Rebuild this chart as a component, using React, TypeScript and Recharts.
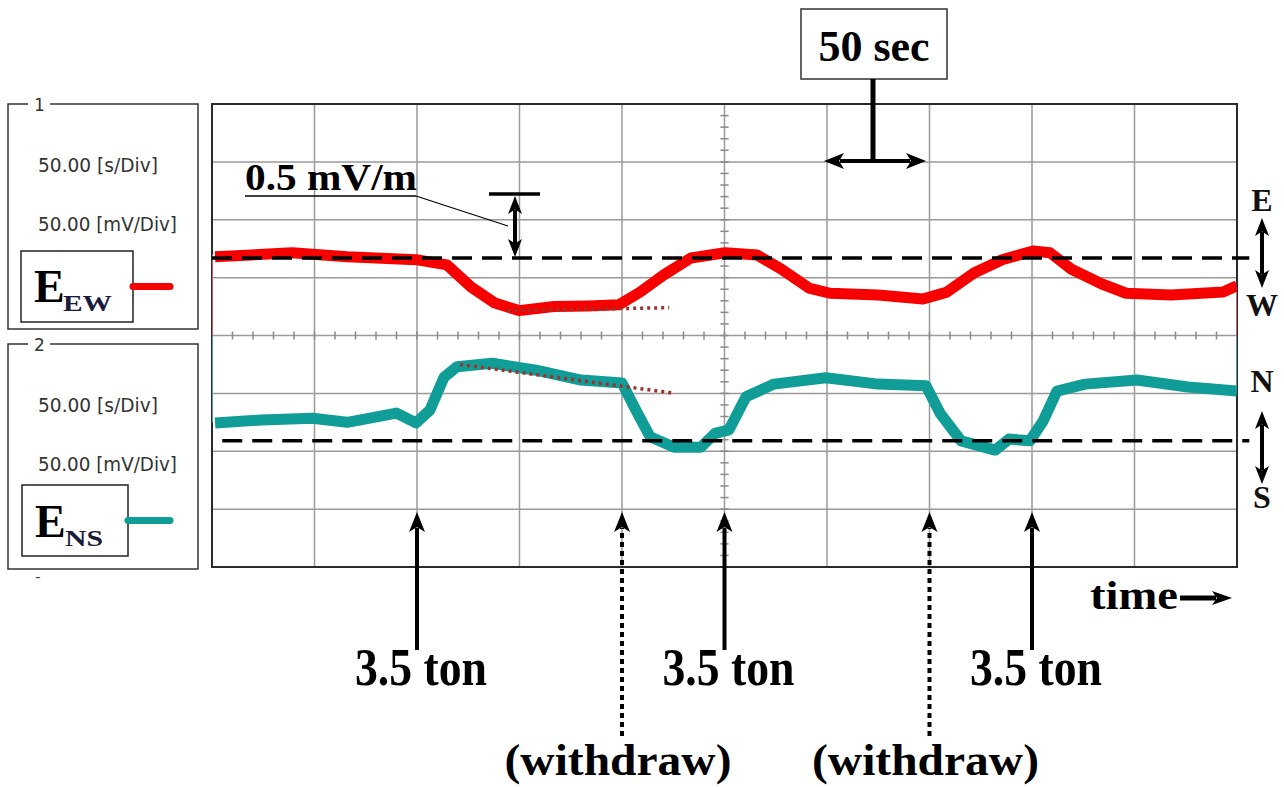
import React from "react";
import { ComposedChart, Line, XAxis, YAxis, CartesianGrid, ReferenceLine, ReferenceArea } from "recharts";

// time in seconds (50 s/div), values in screen divisions (50 mV/div)
const ewTime = [1.5, 39, 66, 99.5, 114.6, 126.3, 138, 149.8, 166.8, 183.4, 198.5, 208.8, 220.5, 233.7, 250.2, 265.9, 277.6, 291.2, 301.5, 324.9, 346.8, 358.5, 371.7, 385.4, 400.5, 408.8, 419, 434.1, 445.9, 467.8, 493.2, 500];
const ewValue = [1.36, 1.43, 1.36, 1.31, 1.22, 0.84, 0.56, 0.43, 0.5, 0.51, 0.53, 0.75, 1.05, 1.34, 1.43, 1.39, 1.15, 0.82, 0.73, 0.7, 0.63, 0.75, 1.08, 1.31, 1.46, 1.43, 1.15, 0.89, 0.73, 0.7, 0.75, 0.86];

const nsTime = [1.5, 24, 49, 66, 90, 99.5, 106.3, 113.2, 119.5, 136.6, 158, 180, 200, 206.8, 213.7, 225.4, 238.5, 245.4, 252.2, 260.5, 274.1, 299.5, 324.9, 348.3, 355.1, 365.4, 382, 388.8, 399, 405.4, 412.2, 425.9, 451.2, 476.1, 500];
const nsValue = [-1.51, -1.46, -1.43, -1.5, -1.34, -1.51, -1.29, -0.72, -0.54, -0.48, -0.6, -0.77, -0.82, -1.29, -1.75, -1.93, -1.93, -1.69, -1.63, -1.06, -0.84, -0.73, -0.84, -0.87, -1.34, -1.82, -1.98, -1.79, -1.82, -1.48, -0.96, -0.84, -0.77, -0.89, -0.96];

// beam retrace at the screen edges
const ewBeam = [{ t: 0, v: 0 }, { t: 0, v: 1.4 }];
const nsBeam = [{ t: 0, v: 0 }, { t: 0, v: -1.5 }];
const ewBeamEnd = [{ t: 500, v: 0.86 }, { t: 500, v: 0 }];
const nsBeamEnd = [{ t: 500, v: 0 }, { t: 500, v: -0.96 }];

// reference levels and trend lines
const ewLevel = 1.34;
const nsLevel = -1.82;
const ewTrend = [{ t: 144, v: 0.43 }, { t: 223, v: 0.48 }];
const nsTrend = [{ t: 121, v: -0.5 }, { t: 224, v: -0.99 }];

// events
const loadTimes = [100, 250, 400];
const withdrawTimes = [200, 350];

const xTicks = [0, 50, 100, 150, 200, 250, 300, 350, 400, 450, 500];
const yTicks = [-4, -3, -2, -1, 0, 1, 2, 3, 4];
const minorT = Array.from({ length: 49 }, (_, i) => (i + 1) * 10);
const minorV = Array.from({ length: 39 }, (_, i) => -3.8 + i * 0.2);

const ewData = ewTime.map((t, i) => ({ t, v: ewValue[i] }));
const nsData = nsTime.map((t, i) => ({ t, v: nsValue[i] }));

const W = 1284;
const H = 787;
const M = { top: 104, right: 47, bottom: 220, left: 212 };
const xPx = (t: number) => M.left + (t / 500) * (W - M.left - M.right);

const RED = "#f70000";
const TEAL = "#109c97";
const SERIF = "'Liberation Serif', 'Times New Roman', serif";
const SANS = "'DejaVu Sans', sans-serif";

function Head({ x, y, dir, w = 16, h = 20 }: { x: number; y: number; dir: "up" | "down" | "left" | "right"; w?: number; h?: number }) {
  let pts = "";
  if (dir === "up") pts = `${x},${y} ${x - w / 2},${y + h} ${x},${y + h * 0.75} ${x + w / 2},${y + h}`;
  if (dir === "down") pts = `${x},${y} ${x - w / 2},${y - h} ${x},${y - h * 0.75} ${x + w / 2},${y - h}`;
  if (dir === "left") pts = `${x},${y} ${x + h},${y - w / 2} ${x + h * 0.75},${y} ${x + h},${y + w / 2}`;
  if (dir === "right") pts = `${x},${y} ${x - h},${y - w / 2} ${x - h * 0.75},${y} ${x - h},${y + w / 2}`;
  return <polygon points={pts} fill="#000" />;
}

function Panel({ y, num, sub, color, inner }: { y: number; num: string; sub: string; color: string; inner: { x1: number; y1: number; x2: number; y2: number; base: number; sx: number; sw: number } }) {
  return (
    <g>
      <rect x={8} y={y} width={190} height={225} fill="none" stroke="#333" strokeWidth={1.5} />
      <rect x={28} y={y - 8} width={22} height={16} fill="#fff" />
      <text x={34} y={y + 7} fontFamily={SANS} fontSize={17} fill="#333">{num}</text>
      <text x={38} y={y + 68} fontFamily={SANS} fontSize={20} fill="#333" textLength={120} lengthAdjust="spacingAndGlyphs">50.00 [s/Div]</text>
      <text x={38} y={y + 127} fontFamily={SANS} fontSize={20} fill="#333" textLength={139} lengthAdjust="spacingAndGlyphs">50.00 [mV/Div]</text>
      <rect x={inner.x1} y={inner.y1} width={inner.x2 - inner.x1} height={inner.y2 - inner.y1} fill="#fff" stroke="#222" strokeWidth={1.5} />
      <text x={inner.x1 + 13} y={inner.base} fontFamily={SERIF} fontWeight="bold" fontSize={46} fill="#000">E</text>
      <text x={inner.sx} y={inner.base + 9} fontFamily={SERIF} fontWeight="bold" fontSize={24} fill="#1a1a3c" textLength={inner.sw} lengthAdjust="spacingAndGlyphs">{sub}</text>
      <line x1={inner.x2} y1={(inner.y1 + inner.y2) / 2} x2={170} y2={(inner.y1 + inner.y2) / 2} stroke={color} strokeWidth={7} strokeLinecap="round" />
    </g>
  );
}

function Annotations() {
  return (
    <svg width={W} height={H} style={{ position: "absolute", left: 0, top: 0, pointerEvents: "none" }}>
      <Panel y={104} num="1" sub="EW" color={RED} inner={{ x1: 21, y1: 251, x2: 133, y2: 322, base: 302, sx: 63, sw: 49 }} />
      <Panel y={344} num="2" sub="NS" color={TEAL} inner={{ x1: 22, y1: 485, x2: 128, y2: 556, base: 537, sx: 65, sw: 38 }} />
      <text x={35} y={582} fontFamily={SANS} fontSize={16} fill="#555">-</text>

      {/* 50 sec scale */}
      <rect x={801} y={9} width={146} height={70} fill="#fff" stroke="#333" strokeWidth={1.5} />
      <text x={874} y={61} textAnchor="middle" fontFamily={SERIF} fontWeight="bold" fontSize={44}>50 sec</text>
      <line x1={873} y1={79} x2={873} y2={161} stroke="#000" strokeWidth={5} />
      <line x1={840} y1={161} x2={910} y2={161} stroke="#000" strokeWidth={4} />
      <Head x={824} y={161} dir="left" />
      <Head x={926} y={161} dir="right" />

      {/* 0.5 mV/m scale */}
      <text x={245} y={190} fontFamily={SERIF} fontWeight="bold" fontSize={38} textLength={172} lengthAdjust="spacingAndGlyphs">0.5 mV/m</text>
      <line x1={245} y1={196} x2={416} y2={196} stroke="#000" strokeWidth={1.5} />
      <line x1={416} y1={196} x2={508} y2={226} stroke="#000" strokeWidth={1.2} />
      <line x1={489} y1={194} x2={540} y2={194} stroke="#000" strokeWidth={3.5} />
      <line x1={515} y1={210} x2={515} y2={244} stroke="#000" strokeWidth={4} />
      <Head x={515} y={196} dir="up" w={14} h={18} />
      <Head x={515} y={257} dir="down" w={14} h={18} />

      {/* E/W, N/S */}
      <text x={1262} y={211} textAnchor="middle" fontFamily={SERIF} fontWeight="bold" fontSize={32} fill="#111">E</text>
      <line x1={1262} y1={232} x2={1262} y2={274} stroke="#000" strokeWidth={4} />
      <Head x={1262} y={218} dir="up" w={14} h={18} />
      <Head x={1262} y={288} dir="down" w={14} h={18} />
      <text x={1262} y={316} textAnchor="middle" fontFamily={SERIF} fontWeight="bold" fontSize={32} fill="#111">W</text>
      <text x={1262} y={392} textAnchor="middle" fontFamily={SERIF} fontWeight="bold" fontSize={32} fill="#111">N</text>
      <line x1={1262} y1={425} x2={1262} y2={470} stroke="#000" strokeWidth={4} />
      <Head x={1262} y={411} dir="up" w={14} h={18} />
      <Head x={1262} y={484} dir="down" w={14} h={18} />
      <text x={1262} y={508} textAnchor="middle" fontFamily={SERIF} fontWeight="bold" fontSize={32} fill="#111">S</text>

      {/* time axis */}
      <text x={1090} y={609} fontFamily={SERIF} fontWeight="bold" fontSize={40} textLength={88} lengthAdjust="spacingAndGlyphs">time</text>
      <line x1={1180} y1={598} x2={1216} y2={598} stroke="#000" strokeWidth={5} />
      <Head x={1232} y={598} dir="right" w={14} h={20} />

      {/* event arrows */}
      {loadTimes.map((t) => {
        const x = xPx(t);
        return (
          <g key={"l" + t}>
            <line x1={x} y1={650} x2={x} y2={528} stroke="#000" strokeWidth={4} />
            <Head x={x} y={512} dir="up" />
            <text x={x + 4} y={685} textAnchor="middle" fontFamily={SERIF} fontWeight="bold" fontSize={52} textLength={132} lengthAdjust="spacingAndGlyphs">3.5 ton</text>
          </g>
        );
      })}
      {withdrawTimes.map((t) => {
        const x = xPx(t);
        return (
          <g key={"w" + t}>
            <line x1={x} y1={736} x2={x} y2={528} stroke="#000" strokeWidth={4} strokeDasharray="5 4" />
            <Head x={x} y={512} dir="up" />
            <text x={x - 4} y={775} textAnchor="middle" fontFamily={SERIF} fontWeight="bold" fontSize={45} textLength={227} lengthAdjust="spacingAndGlyphs">(withdraw)</text>
          </g>
        );
      })}
    </svg>
  );
}

export default function App() {
  return (
    <div style={{ position: "absolute", left: 0, top: 0, width: W, height: H, background: "#fff" }}>
      <ComposedChart width={W} height={H} margin={M}>
        <XAxis type="number" dataKey="t" domain={[0, 500]} ticks={xTicks} hide allowDataOverflow />
        <YAxis type="number" domain={[-4, 4]} ticks={yTicks} hide allowDataOverflow />
        <CartesianGrid stroke="#9a9a9a" strokeWidth={1.5} />
        {minorT.map((t) => (
          <ReferenceLine key={"mt" + t} segment={[{ x: t, y: -0.07 }, { x: t, y: 0.07 }]} stroke="#8a8a8a" strokeWidth={1.5} />
        ))}
        {minorV.map((v) => (
          <ReferenceLine key={"mv" + v.toFixed(1)} segment={[{ x: 248, y: v }, { x: 252, y: v }]} stroke="#8a8a8a" strokeWidth={1.5} />
        ))}
        <ReferenceArea x1={0} x2={500} y1={-4} y2={4} fill="none" stroke="#2a2a2a" strokeWidth={2} />
        <Line data={ewBeam} dataKey="v" stroke="#f47a7a" strokeWidth={1.5} dot={false} isAnimationActive={false} />
        <Line data={nsBeam} dataKey="v" stroke="#6cc4c0" strokeWidth={1.5} dot={false} isAnimationActive={false} />
        <Line data={ewBeamEnd} dataKey="v" stroke="#f47a7a" strokeWidth={1.5} dot={false} isAnimationActive={false} />
        <Line data={nsBeamEnd} dataKey="v" stroke="#6cc4c0" strokeWidth={1.5} dot={false} isAnimationActive={false} />
        <Line data={ewData} dataKey="v" type="linear" stroke={RED} strokeWidth={11} dot={false} isAnimationActive={false} strokeLinejoin="round" />
        <Line data={nsData} dataKey="v" type="linear" stroke={TEAL} strokeWidth={11} dot={false} isAnimationActive={false} strokeLinejoin="round" />
        <ReferenceLine segment={[{ x: 0, y: ewLevel }, { x: 506, y: ewLevel }]} stroke="#000" strokeWidth={3.5} strokeDasharray="20 10" ifOverflow="visible" />
        <ReferenceLine segment={[{ x: 5, y: nsLevel }, { x: 506, y: nsLevel }]} stroke="#000" strokeWidth={3.5} strokeDasharray="20 10" ifOverflow="visible" />
        <ReferenceLine segment={ewTrend.map((p) => ({ x: p.t, y: p.v }))} stroke="#a0302c" strokeWidth={3.5} strokeDasharray="3 4" />
        <ReferenceLine segment={nsTrend.map((p) => ({ x: p.t, y: p.v }))} stroke="#a0302c" strokeWidth={3.5} strokeDasharray="3 4" />
      </ComposedChart>
      <Annotations />
    </div>
  );
}
